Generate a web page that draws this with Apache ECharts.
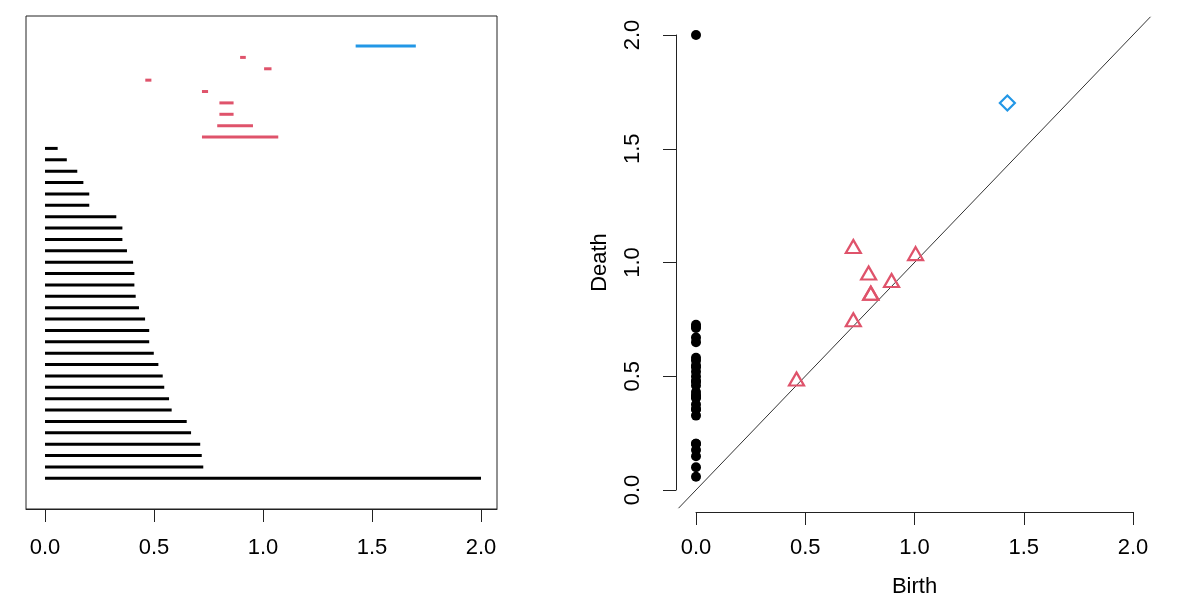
<!DOCTYPE html>
<html>
<head>
<meta charset="utf-8">
<script src="https://cdn.jsdelivr.net/npm/echarts@6/dist/echarts.min.js"></script>
<style>
  html, body { margin: 0; padding: 0; background: #fff; }
  #chart { width: 1178px; height: 605px; }
</style>
</head>
<body>
<div id="chart"></div>
<script>
// persistence data, bottom bar first
const h0Birth = [0, 0, 0, 0, 0, 0, 0, 0, 0, 0, 0, 0, 0, 0, 0, 0, 0, 0, 0, 0, 0, 0, 0, 0, 0, 0, 0, 0, 0, 0];
const h0Death = [2.0, 0.726, 0.719, 0.712, 0.670, 0.650, 0.581, 0.569, 0.547, 0.540,
                 0.520, 0.499, 0.478, 0.478, 0.459, 0.431, 0.416, 0.410, 0.410, 0.404,
                 0.376, 0.355, 0.355, 0.327, 0.203, 0.203, 0.176, 0.148, 0.100, 0.058];
const h1Birth = [0.72, 0.79, 0.80, 0.80, 0.72, 0.46, 1.005, 0.895];
const h1Death = [1.07, 0.954, 0.865, 0.865, 0.748, 0.488, 1.039, 0.921];
const h2Birth = [1.425];
const h2Death = [1.701];
const tickValues = [0, 0.5, 1, 1.5, 2];
const diagRange = [-0.08, 2.08];

const colors = ['#000000', '#DF536B', '#2297E6'];
const groups = [[h0Birth, h0Death], [h1Birth, h1Death], [h2Birth, h2Death]];

const chart = echarts.init(document.getElementById('chart'));

// barcode rows, stacked from the bottom
let row = 1;
const barSeries = groups.map(([b, d], g) => {
    const data = b.map((v, i) => [v, d[i], row++]);
    return {
        type: 'custom',
        xAxisIndex: 0,
        yAxisIndex: 0,
        data: data,
        encode: { x: [0, 1], y: 2 },
        renderItem: (params, api) => {
            const s = api.coord([api.value(0), api.value(2)]);
            const e = api.coord([api.value(1), api.value(2)]);
            return {
                type: 'line',
                shape: { x1: s[0], y1: s[1], x2: e[0], y2: e[1] },
                style: { stroke: colors[g], lineWidth: 3, lineCap: 'butt' }
            };
        }
    };
});

const symbols = ['circle', 'triangle', 'diamond'];
const sizes = [10, [15, 13], 15];
const pointSeries = groups.map(([b, d], g) => ({
    type: 'scatter',
    xAxisIndex: 1,
    yAxisIndex: 1,
    clip: false,
    symbol: symbols[g],
    symbolSize: sizes[g],
    data: b.map((v, i) => [v, d[i]]),
    itemStyle: g === 0
        ? { color: '#000', opacity: 1 }
        : { color: 'rgba(0,0,0,0)', borderColor: colors[g], borderWidth: 2.2, opacity: 1 },
    z: 3
}));

// y = x reference line
const diagSeries = {
    type: 'custom',
    xAxisIndex: 1,
    yAxisIndex: 1,
    clip: false,
    data: [[diagRange[0], diagRange[1]]],
    renderItem: (params, api) => {
        const s = api.coord([api.value(0), api.value(0)]);
        const e = api.coord([api.value(1), api.value(1)]);
        return {
            type: 'line',
            shape: { x1: s[0], y1: s[1], x2: e[0], y2: e[1] },
            style: { stroke: '#333', lineWidth: 1 }
        };
    },
    z: 2
};

const font = { fontFamily: 'Liberation Sans', fontSize: 22, color: '#000' };

const option = {
    animation: false,
    backgroundColor: '#fff',
    grid: [
        { left: 26, top: 16, width: 471, height: 493, show: true, borderColor: '#222', borderWidth: 1 },
        { left: 696, top: 35, width: 437, height: 455 }
    ],
    xAxis: [
        {
            gridIndex: 0, type: 'value', min: -0.0872, max: 2.0734,
            axisLine: { show: true, onZero: false, lineStyle: { color: '#222', width: 1 } },
            axisTick: { show: true, length: 13, customValues: tickValues, lineStyle: { color: '#222' } },
            axisLabel: Object.assign({ margin: 28, customValues: tickValues, formatter: v => v.toFixed(1) }, font),
            splitLine: { show: false }
        },
        {
            gridIndex: 1, type: 'value', min: 0, max: 2, interval: 0.5, offset: 22,
            name: 'Birth', nameLocation: 'middle', nameGap: 64,
            nameTextStyle: font,
            axisLine: { show: true, onZero: false, lineStyle: { color: '#222', width: 1 } },
            axisTick: { show: true, length: 13, lineStyle: { color: '#222' } },
            axisLabel: Object.assign({ margin: 25, formatter: v => v.toFixed(1) }, font),
            splitLine: { show: false }
        }
    ],
    yAxis: [
        { gridIndex: 0, type: 'value', min: -1.70, max: 41.64, show: false },
        {
            gridIndex: 1, type: 'value', min: 0, max: 2, interval: 0.5, offset: 20,
            name: 'Death', nameLocation: 'middle', nameGap: 65,
            nameTextStyle: font,
            axisLine: { show: true, onZero: false, lineStyle: { color: '#222', width: 1 } },
            axisTick: { show: true, length: 13, lineStyle: { color: '#222' } },
            axisLabel: Object.assign({ margin: 32, rotate: 90, formatter: v => v.toFixed(1) }, font),
            splitLine: { show: false }
        }
    ],
    series: [
        ...barSeries,
        diagSeries,
        ...pointSeries
    ]
};

chart.setOption(option);
</script>
</body>
</html>
